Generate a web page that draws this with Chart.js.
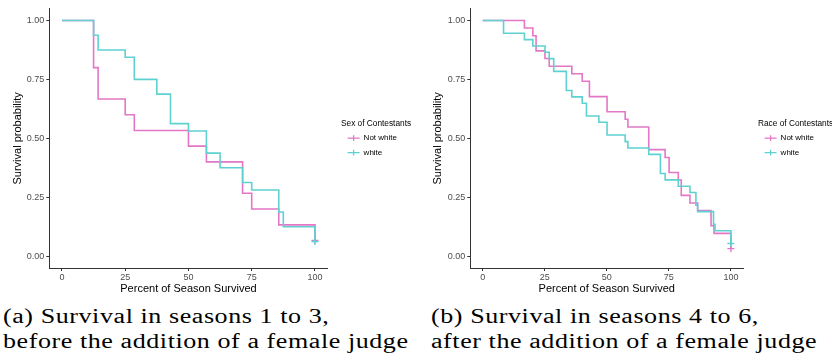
<!DOCTYPE html>
<html><head><meta charset="utf-8">
<script src="https://cdn.jsdelivr.net/npm/chart.js@4.4.1/dist/chart.umd.min.js"></script>
<style>
html,body{margin:0;padding:0;background:#fff;width:832px;height:355px;overflow:hidden;position:relative;}
.box{position:absolute;top:0;height:296px;}
#b1{left:0;width:416px;}
#b2{left:420px;width:412px;}
.cap{position:absolute;font-family:"Liberation Serif",serif;font-size:20px;line-height:25px;white-space:nowrap;color:#000;transform-origin:0 0;}
</style></head><body>
<div class="box" id="b1"><canvas id="c1"></canvas></div>
<div class="box" id="b2"><canvas id="c2"></canvas></div>
<div class="cap" id="t1a" style="left:3px;top:304px">(a) Survival in seasons 1 to 3,</div>
<div class="cap" id="t2a" style="left:3px;top:329px">before the addition of a female judge</div>
<div class="cap" id="t1b" style="left:431px;top:304px">(b) Survival in seasons 4 to 6,</div>
<div class="cap" id="t2b" style="left:431px;top:329px">after the addition of a female judge</div>
<script>
// ---------- data ----------
const xTicks = [0, 25, 50, 75, 100];
const yTicks = [0, 0.25, 0.5, 0.75, 1];
const groups = ['Not white', 'white'];
const xTitle = 'Percent of Season Survived';
const yTitle = 'Survival probability';
const legendTitleA = 'Sex of Contestants';
const legendTitleB = 'Race of Contestants';

// Panel (a): seasons 1 to 3
const aNotWhiteTime = [0, 12.5, 14.3, 25, 28.6, 50, 57.1, 71.4, 75, 85.7, 100];
const aNotWhiteSurv = [1, 0.8, 0.667, 0.6, 0.533, 0.467, 0.4, 0.267, 0.2, 0.133, 0.067];
const aWhiteTime = [0, 12.5, 14.3, 25, 28.6, 37.5, 42.9, 50, 57.1, 62.5, 71.4, 75, 85.7, 87.5, 100];
const aWhiteSurv = [1, 0.9375, 0.875, 0.844, 0.75, 0.6875, 0.5625, 0.531, 0.4375, 0.375, 0.3125, 0.281, 0.1875, 0.125, 0.0625];

// Panel (b): seasons 4 to 6
const bNotWhiteTime = [0, 16.8, 20.2, 21.5, 25.1, 26.8, 35.9, 40.1, 43.0, 50.1, 57.4, 58.5, 66.9, 73.5, 75.1, 78.8, 80.0, 83.5, 86.6, 92.0, 93.2, 100];
const bNotWhiteSurv = [1, 0.968, 0.935, 0.871, 0.839, 0.806, 0.774, 0.742, 0.677, 0.613, 0.581, 0.548, 0.452, 0.419, 0.355, 0.323, 0.258, 0.226, 0.194, 0.129, 0.097, 0.032];
const bWhiteTime = [0, 8.4, 16.8, 20.2, 25.1, 26.8, 28.6, 33.7, 35.9, 40.1, 41.8, 46.8, 50.1, 57.4, 58.5, 66.9, 71.6, 73.5, 78.8, 83.5, 85.9, 86.6, 93.0, 93.6, 100];
const bWhiteSurv = [1, 0.946, 0.919, 0.892, 0.865, 0.838, 0.784, 0.703, 0.676, 0.649, 0.595, 0.568, 0.514, 0.486, 0.459, 0.432, 0.351, 0.324, 0.297, 0.270, 0.216, 0.189, 0.135, 0.108, 0.054];

// ---------- styling ----------
const PINK = '#E377C6';
const TEAL = '#5FD1D1';
const SANS = '"Liberation Sans", Arial, sans-serif';

function pairs(t, s) { return t.map((x, i) => ({x: x, y: s[i]})); }

function ds(label, t, s, color, order) {
  return {
    label: label,
    data: pairs(t, s),
    borderColor: color,
    backgroundColor: color,
    borderWidth: 1.6,
    stepped: true,
    fill: false,
    order: order,
    pointStyle: 'cross',
    pointRadius: c => (c.dataIndex === c.dataset.data.length - 1 ? 3.5 : 0),
    pointHoverRadius: c => (c.dataIndex === c.dataset.data.length - 1 ? 3.5 : 0),
    pointBorderColor: color,
    pointBorderWidth: 1.3
  };
}

function makeChart(canvasId, legendTitle, d0, d1, geo) {
  const legendPlace = {
    id: 'legendPlace',
    beforeLayout(chart) {
      const lg = chart.legend;
      if (lg && !lg.__fixed) {
        const orig = lg.fit;
        lg.fit = function () { orig.call(this); this.width = geo.legendW; };
        lg.__fixed = true;
      }
    },
    afterLayout(chart) {
      const lg = chart.legend;
      if (!lg) return;
      lg.left = geo.legendX; lg.right = chart.width;
      lg.width = lg.right - lg.left;
      lg.top = 0; lg.bottom = geo.legendSpan;
      lg.height = geo.legendSpan;
    }
  };
  return new Chart(document.getElementById(canvasId), {
    type: 'line',
    data: { datasets: [d0, d1] },
    plugins: [legendPlace],
    options: {
      responsive: true,
      maintainAspectRatio: false,
      animation: false,
      devicePixelRatio: 1,
      events: [],
      layout: { padding: { left: 0, top: 8.7, bottom: 0, right: 0 } },
      plugins: {
        tooltip: { enabled: false },
        legend: {
          display: true,
          position: 'right',
          fullSize: false,
          title: { display: true, text: legendTitle, position: 'start', color: '#000',
                   font: { family: SANS, size: 8.3, lineHeight: 1 }, padding: 0 },
          labels: {
            usePointStyle: true, pointStyle: 'cross', pointStyleWidth: 12, boxHeight: 4,
            padding: 6.6, color: '#000', font: { family: SANS, size: 8 },
            sort: (a, b) => a.datasetIndex - b.datasetIndex
          }
        }
      },
      scales: {
        x: {
          type: 'linear', min: -5, max: 105,
          afterBuildTicks: s => { s.ticks = xTicks.map(v => ({value: v})); },
          afterFit: s => { s.height = 28; },
          ticks: { padding: 1, color: '#4D4D4D', font: { family: SANS, size: 9 }, maxRotation: 0, autoSkip: false,
                   callback: v => String(v) },
          grid: { display: true, drawOnChartArea: false, drawTicks: true, tickLength: 3, tickColor: '#333', tickWidth: 1 },
          border: { display: true, color: '#333', width: 1 },
          title: { display: true, text: xTitle, color: '#000', font: { family: SANS, size: 11 }, padding: { top: 0, bottom: 0.4 } }
        },
        y: {
          type: 'linear', min: -0.05, max: 1.05,
          afterBuildTicks: s => { s.ticks = yTicks.map(v => ({value: v})); },
          afterFit: s => { s.width = geo.yWidth; },
          ticks: { padding: 2, color: '#4D4D4D', font: { family: SANS, size: 9 }, autoSkip: false,
                   callback: v => Number(v).toFixed(2) },
          grid: { display: true, drawOnChartArea: false, drawTicks: true, tickLength: 3, tickColor: '#333', tickWidth: 1 },
          border: { display: true, color: '#333', width: 1 },
          title: { display: true, text: yTitle, color: '#000', font: { family: SANS, size: 11 }, padding: { top: 11.7, bottom: 0 } }
        }
      }
    }
  });
}

makeChart('c1', legendTitleA,
  ds(groups[0], aNotWhiteTime, aNotWhiteSurv, PINK, 1),
  ds(groups[1], aWhiteTime, aWhiteSurv, TEAL, 0),
  { legendW: 416 - 327.6, yWidth: 49.3, legendX: 341, legendSpan: 282.4 });

makeChart('c2', legendTitleB,
  ds(groups[0], bNotWhiteTime, bNotWhiteSurv, PINK, 1),
  ds(groups[1], bWhiteTime, bWhiteSurv, TEAL, 0),
  { legendW: 412 - 323.3, yWidth: 50.3, legendX: 338, legendSpan: 282.4 });

// captions: widen to the reference width (stretch + slight letter spacing)
(function () {
  const ids = ['t1a', 't2a', 't1b', 't2b'];
  const sx = 1.3;
  const ref = document.getElementById('t2a');
  const nat = ref.offsetWidth;
  const n = ref.textContent.length;
  const ls = (405 / sx - nat) / n;
  ids.forEach(id => {
    const el = document.getElementById(id);
    el.style.letterSpacing = ls.toFixed(3) + 'px';
    el.style.transform = 'scaleX(' + sx + ')';
  });
})();
</script>
</body></html>
